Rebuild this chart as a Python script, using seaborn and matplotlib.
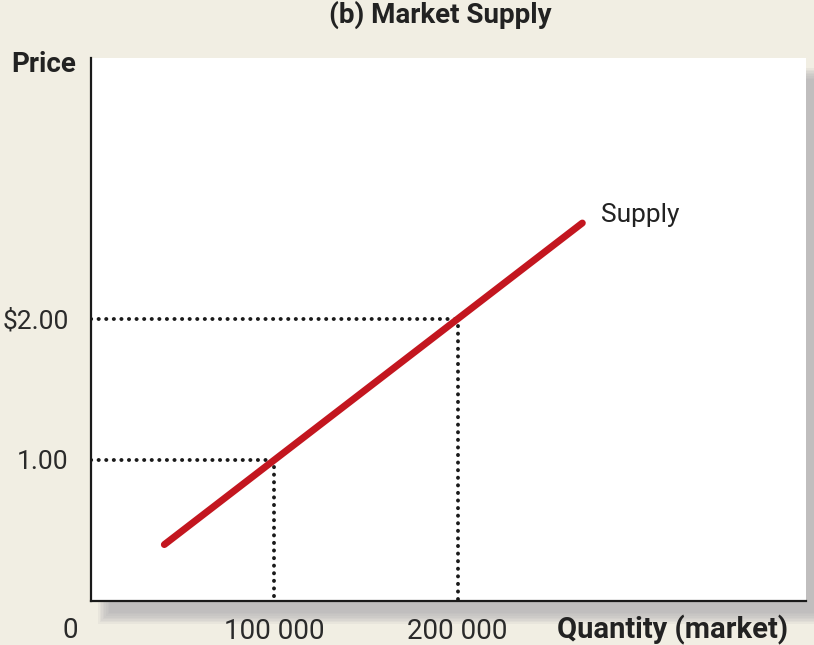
import matplotlib
matplotlib.use("Agg")
import matplotlib.pyplot as plt
from matplotlib.patches import Rectangle
import seaborn as sns
import pandas as pd

# ---- data ----
supply_qty = [40000, 268000]
supply_price = [0.40, 2.68]
ref_qty = [100000, 200000]
ref_price = [1.00, 2.00]
xtick_labels = ["100 000", "200 000"]
ytick_labels = ["1.00", r"\$2.00"]

sns.set_theme(style="white")
plt.rcParams['font.family'] = ["Roboto", 'DejaVu Sans']

W, H = 814, 645
fig = plt.figure(figsize=(W / 100, H / 100), dpi=100)
bg = "#f1eee3"
fig.patch.set_facecolor(bg)

def fx(px):
    return px / W

def fy(py):
    return 1 - py / H

# soft shadow behind plot area
for i in range(8):
    g = i * 1.6
    x0, x1 = 98 + g, 830 - g
    y0, y1 = 68 + g, 624 - g
    fig.add_artist(Rectangle((fx(x0), fy(y1)), fx(x1) - fx(x0), fy(y0) - fy(y1),
                             transform=fig.transFigure, facecolor="#a9a9ad",
                             edgecolor="none", alpha=0.12, zorder=0))

left, right, top, bottom = 91, 806, 58, 601
ax = fig.add_axes([fx(left), fy(bottom), fx(right) - fx(left), fy(top) - fy(bottom)])
ax.set_zorder(2)
ax.set_facecolor("white")

df = pd.DataFrame({"qty": supply_qty, "price": supply_price})
sns.lineplot(data=df, x="qty", y="price", ax=ax, color="#c3161f", lw=5,
             solid_capstyle="round", zorder=3)

dot = dict(color="#1a1a1a", lw=2.8, linestyle=(0, (0.05, 1.9)),
           dash_capstyle="round", zorder=2)
for q, p in zip(ref_qty, ref_price):
    ax.plot([0, q], [p, p], **dot)
    ax.plot([q, q], [p - 0.05, 0], **dot)

ax.set_xlim(0, 390000)
ax.set_ylim(0, 3.85)
ax.set_xlabel("")
ax.set_ylabel("")
for s in ["top", "right"]:
    ax.spines[s].set_visible(False)
for s in ["left", "bottom"]:
    ax.spines[s].set_color("#1a1a1a")
    ax.spines[s].set_linewidth(1.6)

ax.set_xticks(ref_qty)
ax.set_xticklabels(xtick_labels)
ax.set_yticks(ref_price)
ax.set_yticklabels(ytick_labels)
ax.tick_params(axis="x", length=0, labelsize=20, colors="#2a2a2a", pad=12)
ax.tick_params(axis="y", length=0, labelsize=19, colors="#2a2a2a", pad=16)

ax.text(278000, 2.74, "Supply", fontsize=19, color="#222222",
        ha="left", va="center")

fig.text(fx(440), fy(15), "(b) Market Supply", ha="center", va="center",
         fontsize=20, fontweight="bold", color="#222222")
fig.text(fx(44), fy(65), "Price", ha="center", va="center",
         fontsize=20, fontweight="bold", color="#222222")
fig.text(fx(70), fy(630), "0", ha="center", va="center",
         fontsize=20, color="#2a2a2a")
fig.text(fx(788), fy(630), "Quantity (market)", ha="right", va="center",
         fontsize=21, fontweight="bold", color="#222222")

fig.savefig("out.png", dpi=100, facecolor=bg)
